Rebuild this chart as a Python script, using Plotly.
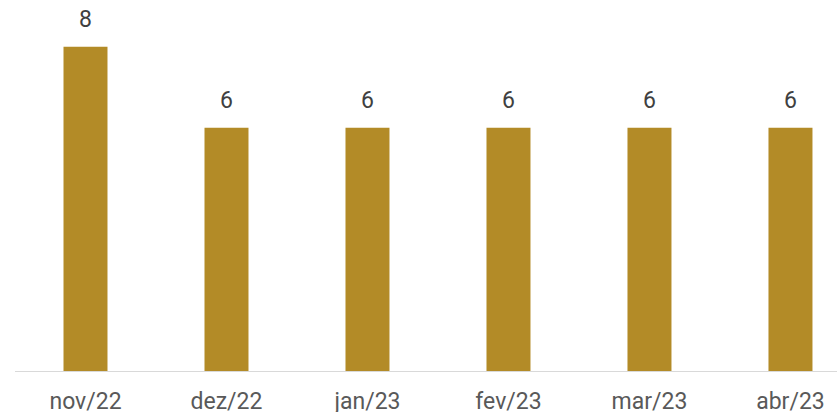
import plotly.graph_objects as go

categories = ["nov/22", "dez/22", "jan/23", "fev/23", "mar/23", "abr/23"]
values = [8, 6, 6, 6, 6, 6]

fig = go.Figure()
fig.add_trace(go.Bar(
    x=list(range(len(categories))), y=values,
    marker=dict(color="#B38B27", line=dict(width=0)),
    width=0.312,
))
for i, v in enumerate(values):
    fig.add_annotation(x=i, y=v, text=str(v), showarrow=False, yanchor="bottom",
                       yshift=12, font=dict(family="Roboto", size=23, color="#404040"))

fig.update_layout(
    width=837, height=412,
    margin=dict(l=15, r=0, t=0, b=41),
    plot_bgcolor="white", paper_bgcolor="white",
    showlegend=False,
    font=dict(family="Roboto", size=23, color="#595959"),
    xaxis=dict(range=[-0.5, 5.33], tickvals=list(range(len(categories))), ticktext=categories,
               showgrid=False, zeroline=False, showline=True, linecolor="#D9D9D9", linewidth=1,
               automargin=False,
               ticks="", ticklabelstandoff=9, tickfont=dict(family="Roboto", size=23, color="#595959")),
    yaxis=dict(range=[0, 9.15], visible=False, showgrid=False, zeroline=False, automargin=False),
)
fig.write_html("out.html", config={"displayModeBar": False},
               post_script="document.body.style.margin='0';document.body.style.overflow='hidden';")
